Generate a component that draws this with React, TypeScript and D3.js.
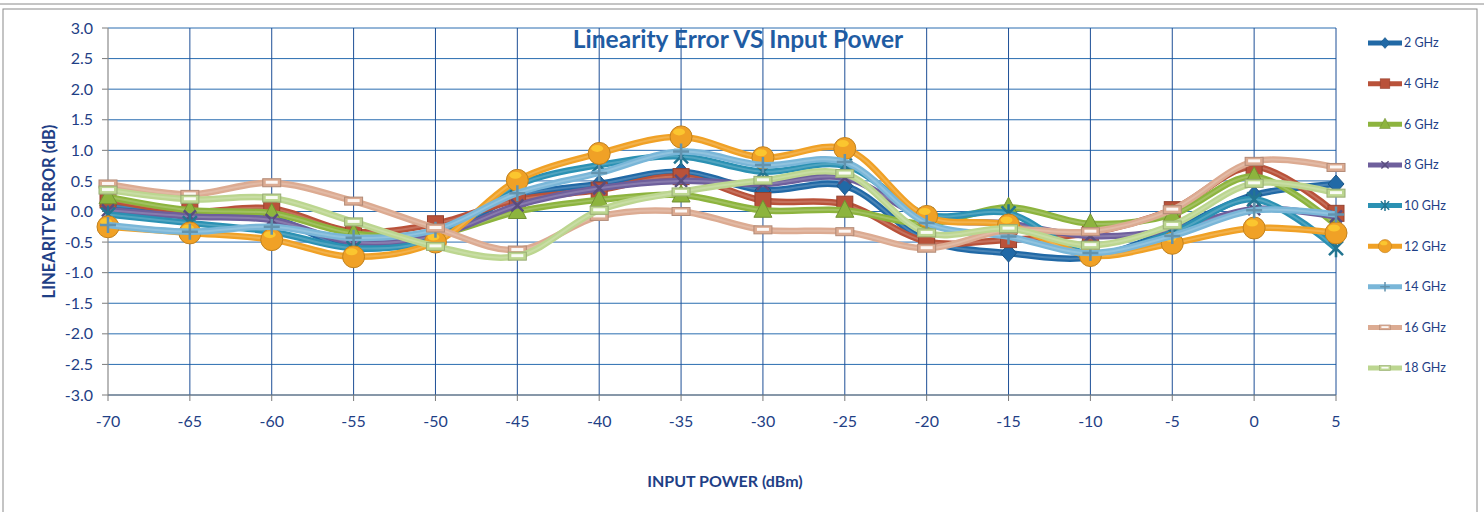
import * as d3 from 'd3';
import React from 'react';

// input power steps (dBm)
const powers = [-70, -65, -60, -55, -50, -45, -40, -35, -30, -25, -20, -15, -10, -5, 0, 5];

const series = ['2 GHz', '4 GHz', '6 GHz', '8 GHz', '10 GHz', '12 GHz', '14 GHz', '16 GHz', '18 GHz'];

const ghz2 = [0.1, 0.0, -0.1, -0.6, -0.4, 0.25, 0.45, 0.65, 0.35, 0.42, -0.47, -0.68, -0.75, -0.3, 0.27, 0.45];
const ghz4 = [0.19, 0.0, 0.05, -0.33, -0.2, 0.19, 0.35, 0.57, 0.18, 0.12, -0.49, -0.46, -0.35, 0.03, 0.73, -0.03];
const ghz6 = [0.24, 0.02, -0.03, -0.36, -0.38, 0.0, 0.19, 0.27, 0.02, 0.02, -0.2, 0.07, -0.2, -0.05, 0.57, -0.22];
const ghz8 = [0.02, -0.08, -0.14, -0.5, -0.4, 0.1, 0.38, 0.5, 0.45, 0.55, -0.1, -0.2, -0.4, -0.3, 0.04, -0.08];
const ghz10 = [-0.05, -0.19, -0.33, -0.6, -0.45, 0.43, 0.76, 0.9, 0.65, 0.75, -0.05, -0.03, -0.7, -0.35, 0.2, -0.6];
const ghz12 = [-0.25, -0.35, -0.46, -0.74, -0.5, 0.51, 0.95, 1.22, 0.88, 1.03, -0.08, -0.22, -0.72, -0.52, -0.27, -0.35];
const ghz14 = [-0.22, -0.33, -0.25, -0.43, -0.3, 0.3, 0.63, 0.98, 0.76, 0.81, -0.19, -0.41, -0.68, -0.4, 0.02, -0.05];
const ghz16 = [0.45, 0.28, 0.47, 0.17, -0.27, -0.63, -0.08, 0.0, -0.3, -0.33, -0.6, -0.3, -0.33, 0.03, 0.82, 0.72];
const ghz18 = [0.35, 0.2, 0.22, -0.17, -0.57, -0.73, 0.02, 0.32, 0.51, 0.62, -0.35, -0.28, -0.55, -0.22, 0.46, 0.3];

const values = [ghz2, ghz4, ghz6, ghz8, ghz10, ghz12, ghz14, ghz16, ghz18];

const yTicks = [3, 2.5, 2, 1.5, 1, 0.5, 0, -0.5, -1, -1.5, -2, -2.5, -3];

const colors = ['#2169a6', '#b9523a', '#8db43e', '#6e5f9c', '#2b91b3', '#f0a126', '#79b6d8', '#dcab92', '#bcd690'];
const markerKinds = ['diamond', 'square', 'triangle', 'x', 'star', 'circle', 'plus', 'dash', 'dash'];

const FONT = 'Lato, "Open Sans", sans-serif';
const TEXT = '#1f3f86';

function Marker({ kind, x, y, color }: { kind: string; x: number; y: number; color: string }) {
    const dark = d3.color(color)!.darker(0.6).toString();
    const light = d3.color(color)!.brighter(0.8).toString();
    switch (kind) {
        case 'diamond':
            return <path d={`M${x},${y - 9}L${x + 8},${y}L${x},${y + 9}L${x - 8},${y}Z`} fill={color} stroke={dark} strokeWidth={1} />;
        case 'square':
            return <rect x={x - 8} y={y - 8} width={16} height={16} fill={color} stroke={dark} strokeWidth={1} />;
        case 'triangle':
            return <path d={`M${x},${y - 10}L${x + 9},${y + 7}L${x - 9},${y + 7}Z`} fill={color} stroke={dark} strokeWidth={1} />;
        case 'x':
            return <path d={`M${x - 6},${y - 6}L${x + 6},${y + 6}M${x + 6},${y - 6}L${x - 6},${y + 6}`} stroke={dark} strokeWidth={2.5} />;
        case 'star':
            return <path d={`M${x - 7},${y - 7}L${x + 7},${y + 7}M${x + 7},${y - 7}L${x - 7},${y + 7}M${x},${y - 9}L${x},${y + 9}`} stroke={dark} strokeWidth={2.5} />;
        case 'circle':
            return (
                <g>
                    <circle cx={x} cy={y} r={11} fill={color} stroke={dark} strokeWidth={1} />
                    <ellipse cx={x - 2} cy={y - 5} rx={6} ry={3.5} fill={light} opacity={0.7} />
                </g>
            );
        case 'plus':
            return <path d={`M${x - 8},${y}L${x + 8},${y}M${x},${y - 8}L${x},${y + 8}`} stroke={dark} strokeWidth={2.5} />;
        case 'dash':
            return (
                <g>
                    <rect x={x - 9} y={y - 4} width={18} height={8} fill={color} stroke={dark} strokeWidth={1} />
                    <rect x={x - 6} y={y - 2} width={12} height={3} fill="#ffffff" opacity={0.9} />
                </g>
            );
        default:
            return null;
    }
}

export default function App() {
    const width = 1484, height = 512;

    const x = d3.scaleLinear().domain([-70, 5]).range([108, 1336]);
    const y = d3.scaleLinear().domain([-3, 3]).range([395, 28]);

    const line = d3.line<number>()
        .x((d, i) => x(powers[i]))
        .y(d => y(d))
        .curve(d3.curveCatmullRom.alpha(0.5));

    const legendY = d3.scaleLinear().domain([0, series.length - 1]).range([43, 368]);

    return (
        <svg width={width} height={height} style={{ position: 'absolute', left: 0, top: 0, background: '#fff' }}>
            {/* frame */}
            <line x1={0} x2={width} y1={4} y2={4} stroke="#8a8a8a" strokeWidth={1} />
            <rect x={3} y={9} width={1474} height={510} fill="none" stroke="#8a8a8a" strokeWidth={1} />

            {/* horizontal grid */}
            {yTicks.map(t => (
                <g key={'h' + t}>
                    <line x1={x(-70)} x2={x(5)} y1={y(t)} y2={y(t)} stroke="#2a6db0" strokeWidth={1} />
                    <line x1={x(-70) - 6} x2={x(-70)} y1={y(t)} y2={y(t)} stroke="#7a7a7a" strokeWidth={1} />
                    <text x={93} y={y(t)} dy="0.35em" textAnchor="end" fontFamily={FONT} fontSize={16} fill={TEXT}>
                        {t.toFixed(1)}
                    </text>
                </g>
            ))}

            {/* vertical grid */}
            {powers.map(p => (
                <g key={'v' + p}>
                    {p !== -70 && <line x1={x(p)} x2={x(p)} y1={y(3)} y2={y(-3)} stroke="#1d4f96" strokeWidth={1} />}
                    <line x1={x(p)} x2={x(p)} y1={y(-3)} y2={y(-3) + 6} stroke="#7a7a7a" strokeWidth={1} />
                    <text x={x(p)} y={427} textAnchor="middle" fontFamily={FONT} fontSize={16} fill={TEXT}>
                        {p}
                    </text>
                </g>
            ))}

            {/* axes */}
            <line x1={x(-70)} x2={x(-70)} y1={y(3)} y2={y(-3)} stroke="#8a8a8a" strokeWidth={1.2} />
            <line x1={x(-70)} x2={x(5)} y1={y(-3)} y2={y(-3)} stroke="#7a7a7a" strokeWidth={1.2} />

            {/* series */}
            {values.map((vals, si) => (
                <g key={series[si]}>
                    <path d={line(vals) || ''} fill="none" stroke={colors[si]} strokeWidth={6.5} strokeLinejoin="round" />
                    <path d={line(vals) || ''} fill="none" stroke="#ffffff" strokeOpacity={0.18} strokeWidth={2} />
                    {vals.map((v, i) => (
                        <Marker key={i} kind={markerKinds[si]} x={x(powers[i])} y={y(v)} color={colors[si]} />
                    ))}
                </g>
            ))}

            {/* title */}
            <text x={738} y={48} textAnchor="middle" fontFamily={FONT} fontWeight="bold" fontSize={24.5} fill="#1f5ca3">
                Linearity Error VS Input Power
            </text>

            {/* axis titles */}
            <text transform={`translate(55,${y(0)}) rotate(-90)`} textAnchor="middle" fontFamily={FONT} fontWeight="bold" fontSize={16.5} fill={TEXT}>
                LINEARITY ERROR (dB)
            </text>
            <text x={725} y={487} textAnchor="middle" fontFamily={FONT} fontWeight="bold" fontSize={16} fill={TEXT}>
                INPUT POWER (dBm)
            </text>

            {/* legend */}
            {series.map((s, si) => (
                <g key={'l' + s}>
                    <line x1={1368} x2={1402} y1={legendY(si)} y2={legendY(si)} stroke={colors[si]} strokeWidth={5} />
                    <g transform={`translate(1385,${legendY(si)}) scale(0.6) translate(-1385,${-legendY(si)})`}>
                        <Marker kind={markerKinds[si]} x={1385} y={legendY(si)} color={colors[si]} />
                    </g>
                    <text x={1404} y={legendY(si)} dy="0.35em" fontFamily={FONT} fontSize={12.5} fill={TEXT}>
                        {s}
                    </text>
                </g>
            ))}
        </svg>
    );
}
